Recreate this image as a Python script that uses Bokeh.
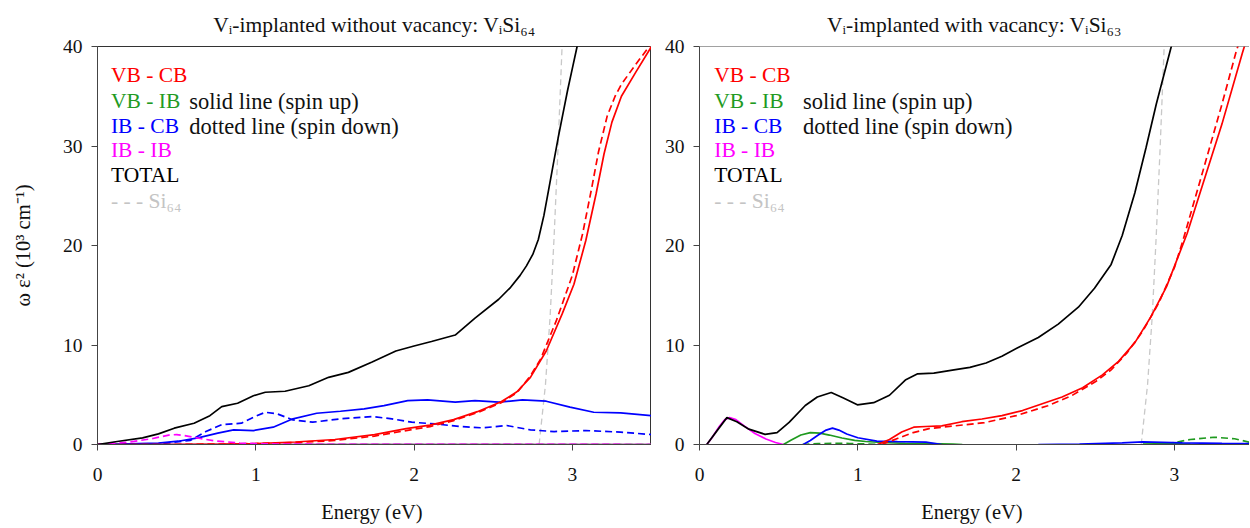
from bokeh.plotting import figure
from bokeh.layouts import row
from bokeh.models import Range1d, FixedTicker, ColumnDataSource, Span
from bokeh.embed import file_html
from bokeh.resources import INLINE
from bokeh.core.properties import value

nan = float("nan")

# ---------------- DATA ----------------
titles = ["Vᵢ-implanted without vacancy: VᵢSi₆₄", "Vᵢ-implanted with vacancy: VᵢSi₆₃"]
x_label = "Energy  (eV)"
y_label = "ω ε² (10³ cm⁻¹)"
x_ticks = [0, 1, 2, 3]
y_ticks = [0, 10, 20, 30, 40]
legend_labels = ["VB - CB", "VB - IB", "IB - CB", "IB - IB", "TOTAL", "- - - Si₆₄"]
legend_colors = ["#ff0000", "#229a22", "#0000ff", "#ff00ff", "#000000", "#c4c4c4"]
style_notes = ["solid line (spin up)", "dotted line (spin down)"]

# Left panel: V_i Si64
L_total_x = [0, 0.135, 0.285, 0.385, 0.485, 0.61, 0.71, 0.785, 0.885, 0.985, 1.06, 1.185, 1.335, 1.46,
             1.585, 1.735, 1.885, 2.0, 2.11, 2.26, 2.385, 2.535, 2.61, 2.67, 2.71, 2.75, 2.785, 2.82,
             2.85, 2.88, 2.91, 2.94, 2.97, 3.0, 3.03, 3.06]
L_total_y = [0, 0.33, 0.67, 1.07, 1.64, 2.14, 2.9, 3.8, 4.15, 4.9, 5.25, 5.35, 5.9, 6.75,
             7.25, 8.3, 9.4, 9.9, 10.35, 11.0, 12.7, 14.6, 15.8, 17.0, 17.95, 19.1, 20.6, 23.0,
             25.6, 28.2, 30.8, 33.2, 35.6, 37.8, 40.0, 42.2]
L_vbcb_up_x = [0, 0.5, 0.8, 1.0, 1.25, 1.5, 1.75, 1.95, 2.1, 2.25, 2.4, 2.55, 2.65, 2.735, 2.835, 2.935,
               3.01, 3.085, 3.15, 3.2, 3.25, 3.31, 3.4, 3.5]
L_vbcb_up_y = [0, 0.0, 0.05, 0.1, 0.25, 0.5, 1.0, 1.6, 1.95, 2.5, 3.3, 4.3, 5.3, 6.75, 9.4, 13.1,
               16.1, 20.5, 25.2, 29.2, 32.4, 35.0, 37.4, 40.0]
L_vbcb_dn_x = [0, 0.5, 0.8, 1.0, 1.25, 1.5, 1.75, 1.95, 2.1, 2.25, 2.4, 2.55, 2.65, 2.735, 2.8, 2.9,
               3.0, 3.065, 3.12, 3.165, 3.22, 3.27, 3.31, 3.4, 3.5]
L_vbcb_dn_y = [0, 0.0, 0.05, 0.1, 0.2, 0.4, 0.85, 1.4, 1.8, 2.4, 3.2, 4.2, 5.2, 6.9, 8.6, 12.5,
               17.0, 21.2, 25.6, 29.4, 33.0, 35.0, 36.2, 38.2, 40.3]
L_vbib_up_x = [0, 3.5]
L_vbib_up_y = [0, 0]
L_vbib_dn_x = [0, 3.5]
L_vbib_dn_y = [0, 0]
L_ibcb_up_x = [0, 0.385, 0.51, 0.635, 0.76, 0.86, 0.985, 1.11, 1.235, 1.385, 1.535, 1.685, 1.81, 1.96,
               2.085, 2.26, 2.385, 2.535, 2.685, 2.835, 2.985, 3.135, 3.305, 3.5]
L_ibcb_up_y = [0, 0.13, 0.33, 0.67, 1.14, 1.47, 1.4, 1.74, 2.58, 3.14, 3.34, 3.58, 3.91, 4.41,
               4.48, 4.25, 4.41, 4.25, 4.48, 4.35, 3.75, 3.24, 3.18, 2.9]
L_ibcb_dn_x = [0, 0.385, 0.585, 0.685, 0.785, 0.91, 0.985, 1.06, 1.135, 1.235, 1.36, 1.535, 1.735, 1.86,
               1.985, 2.135, 2.285, 2.435, 2.585, 2.735, 2.885, 3.085, 3.305, 3.5]
L_ibcb_dn_y = [0, 0.07, 0.4, 1.3, 2.0, 2.14, 2.74, 3.24, 3.08, 2.47, 2.24, 2.58, 2.81, 2.58,
               2.24, 2.07, 1.81, 1.67, 1.91, 1.47, 1.3, 1.4, 1.24, 1.0]
L_ibib_up_x = [0, 3.5]
L_ibib_up_y = [0, 0]
L_ibib_dn_x = [0, 0.2, 0.35, 0.45, 0.5, 0.55, 0.65, 0.75, 0.9, 1.0, 1.2, 3.5]
L_ibib_dn_y = [0, 0.25, 0.6, 0.95, 1.0, 0.9, 0.6, 0.35, 0.15, 0.08, 0.03, 0.0]

# Right panel: V_i Si63
R_total_x = [0.046, 0.11, 0.173, 0.236, 0.312, 0.414, 0.49, 0.566, 0.668, 0.744, 0.832, 0.909, 0.997,
             1.1, 1.2, 1.3, 1.378, 1.48, 1.607, 1.708, 1.81, 1.91, 2.01, 2.14, 2.266, 2.393, 2.495,
             2.6, 2.67, 2.75, 2.82, 2.885, 2.98, 3.01]
R_total_y = [0, 1.37, 2.7, 2.29, 1.54, 1.02, 1.19, 2.22, 3.92, 4.78, 5.22, 4.68, 3.99,
             4.2, 4.95, 6.48, 7.1, 7.17, 7.5, 7.75, 8.19, 8.87, 9.73, 10.75, 12.1, 13.8, 15.7,
             18.1, 21.0, 25.3, 29.8, 34.2, 40.0, 42.0]
R_vbcb_up_x = [1.124, 1.2, 1.277, 1.353, 1.43, 1.53, 1.657, 1.784, 1.91, 2.04, 2.165, 2.29, 2.42, 2.545,
               2.647, 2.75, 2.85, 2.95, 3.08, 3.2, 3.3, 3.43, 3.5]
R_vbcb_up_y = [0, 0.51, 1.26, 1.74, 1.81, 1.88, 2.29, 2.56, 2.9, 3.41, 4.1, 4.78, 5.7, 7.0,
               8.36, 10.24, 12.8, 15.87, 21.2, 27.2, 32.2, 39.4, 43.0]
R_vbcb_dn_x = [1.15, 1.25, 1.35, 1.45, 1.6, 1.8, 2.0, 2.2, 2.35, 2.5, 2.6, 2.7, 2.8, 2.9, 3.0, 3.05,
               3.18, 3.3, 3.39, 3.45]
R_vbcb_dn_y = [0, 0.6, 1.2, 1.6, 1.85, 2.2, 2.9, 3.9, 4.9, 6.3, 7.5, 9.2, 11.4, 14.2, 17.8, 20.3,
               27.5, 34.2, 39.5, 42.5]
R_vbib_up_x = [0.53, 0.58, 0.64, 0.7, 0.76, 0.82, 0.9, 0.98, 1.05, 1.15, 1.3, 1.45, 1.6, 1.66,
               nan, 2.8, 2.95, 3.1]
R_vbib_up_y = [0, 0.45, 0.95, 1.2, 1.15, 0.95, 0.65, 0.42, 0.3, 0.2, 0.12, 0.08, 0.03, 0,
               nan, 0.05, 0.1, 0.05]
R_vbib_dn_x = [0.65, 0.75, 0.85, 0.95, 1.05, 1.12, nan, 2.95, 3.0, 3.1, 3.25, 3.38, 3.48]
R_vbib_dn_y = [0, 0.08, 0.12, 0.1, 0.05, 0, nan, 0.05, 0.2, 0.5, 0.73, 0.58, 0.2]
R_ibcb_up_x = [0.655, 0.7, 0.75, 0.8, 0.84, 0.88, 0.93, 1.0, 1.12, 1.25, 1.43, 1.53,
               nan, 2.14, 2.4, 2.67, 2.8, 3.05, 3.3, 3.48]
R_ibcb_up_y = [0, 0.4, 0.95, 1.45, 1.65, 1.45, 1.05, 0.68, 0.34, 0.28, 0.24, 0,
               nan, 0, 0.05, 0.17, 0.27, 0.17, 0.12, 0.1]
R_ibib_up_x = [0.046, 0.08, 0.12, 0.16, 0.19, 0.23, 0.28, 0.35, 0.42, 0.48, 0.53]
R_ibib_up_y = [0, 0.7, 1.7, 2.5, 2.7, 2.5, 1.9, 1.1, 0.55, 0.2, 0]

# Si64 reference (both panels)
si64_x = [2.79, 2.83, 2.86, 2.885, 2.91, 2.935, 2.95]
si64_y = [0, 6, 13, 21, 30, 40, 44]

# ---------------- STYLE ----------------
SERIF = "Liberation Serif"
RED, GREEN, BLUE, MAGENTA = "#ff0000", "#1f9a1f", "#0000ff", "#ff00ff"
LW = 1.7
DASH = "7 4"


def style(p, show_ylabel):
    p.grid.visible = False
    p.title.text_font = SERIF
    p.title.text_font_style = "normal"
    p.title.text_font_size = "21.5px"
    p.title.text_color = "#111111"
    p.title.align = "center"
    p.title.standoff = 19
    for ax in (p.xaxis[0], p.yaxis[0]):
        ax.major_label_text_font = SERIF
        ax.major_label_text_font_size = "19.5px"
        ax.major_label_text_color = "#111111"
        ax.axis_label_text_font = SERIF
        ax.axis_label_text_font_style = "normal"
        ax.axis_label_text_font_size = "20.5px"
        ax.axis_label_text_color = "#111111"
        ax.major_tick_in = 0
        ax.major_tick_out = 6
        ax.minor_tick_line_color = None
        ax.axis_line_color = "#444444"
        ax.major_tick_line_color = "#444444"
    p.xaxis.ticker = FixedTicker(ticks=x_ticks)
    p.yaxis.ticker = FixedTicker(ticks=y_ticks)
    p.xaxis.major_label_standoff = 17
    p.xaxis.axis_label_standoff = 17
    p.yaxis.major_label_standoff = 9
    p.yaxis.axis_label_standoff = 26
    p.xaxis.axis_label = x_label
    if show_ylabel:
        p.yaxis.axis_label = y_label


def legend(p, x0, x1):
    ys = [37.1, 34.5, 32.0, 29.6, 27.1, 24.5]
    src = ColumnDataSource(dict(x=[x0] * len(legend_labels), y=ys, t=legend_labels, c=legend_colors))
    p.text(x="x", y="y", text="t", text_color="c", source=src, text_font=value(SERIF),
           text_font_size=value("21.5px"), text_baseline="middle", text_align="left")
    src2 = ColumnDataSource(dict(x=[x1, x1], y=ys[1:3], t=style_notes))
    p.text(x="x", y="y", text="t", source=src2, text_color="#111111", text_font=value(SERIF),
           text_font_size=value("22.5px"), text_baseline="middle", text_align="left")


# ---------------- LEFT ----------------
pl = figure(frame_width=554, frame_height=398, min_border_left=97, min_border_right=0,
            min_border_top=46, min_border_bottom=82, x_range=Range1d(0, 3.5), y_range=Range1d(0, 40),
            title=titles[0], output_backend="svg", toolbar_location=None)
style(pl, True)
pl.outline_line_color = "#333333"
pl.line(si64_x, si64_y, color="#c8c8c8", line_width=1.3, line_dash="6 4")
pl.line(L_vbib_up_x, L_vbib_up_y, color=GREEN, line_width=LW)
pl.line(L_vbib_dn_x, L_vbib_dn_y, color=GREEN, line_width=LW, line_dash=DASH)
pl.line(L_ibib_up_x, L_ibib_up_y, color=MAGENTA, line_width=LW)
pl.line(L_ibcb_up_x, L_ibcb_up_y, color=BLUE, line_width=LW)
pl.line(L_ibcb_dn_x, L_ibcb_dn_y, color=BLUE, line_width=LW, line_dash=DASH)
pl.line(L_vbcb_up_x, L_vbcb_up_y, color=RED, line_width=LW)
pl.line(L_vbcb_dn_x, L_vbcb_dn_y, color=RED, line_width=LW, line_dash=DASH)
pl.line(L_ibib_dn_x, L_ibib_dn_y, color=MAGENTA, line_width=LW, line_dash=DASH)
pl.line(L_total_x, L_total_y, color="#000000", line_width=LW)
legend(pl, 0.085, 0.58)

# ---------------- RIGHT ----------------
pr = figure(frame_width=550, frame_height=398, min_border_left=48, min_border_right=0,
            min_border_top=46, min_border_bottom=82, x_range=Range1d(0, 3.474), y_range=Range1d(0, 40),
            title=titles[1], output_backend="svg", toolbar_location=None)
style(pr, False)
pr.outline_line_color = None
pr.add_layout(Span(location=40, dimension="width", line_color="#444444", line_width=1))
pr.line(si64_x, si64_y, color="#c8c8c8", line_width=1.3, line_dash="6 4")
pr.line(R_vbib_dn_x, R_vbib_dn_y, color=GREEN, line_width=LW, line_dash=DASH)
pr.line(R_vbib_up_x, R_vbib_up_y, color=GREEN, line_width=LW)
pr.line(R_ibcb_up_x, R_ibcb_up_y, color=BLUE, line_width=LW)
pr.line(R_ibib_up_x, R_ibib_up_y, color=MAGENTA, line_width=LW)
pr.line(R_vbcb_up_x, R_vbcb_up_y, color=RED, line_width=LW)
pr.line(R_vbcb_dn_x, R_vbcb_dn_y, color=RED, line_width=LW, line_dash=DASH)
pr.line(R_total_x, R_total_y, color="#000000", line_width=LW)
legend(pr, 0.093, 0.654)

layout = row(pl, pr)
open("out.html", "w").write(file_html(layout, INLINE))
